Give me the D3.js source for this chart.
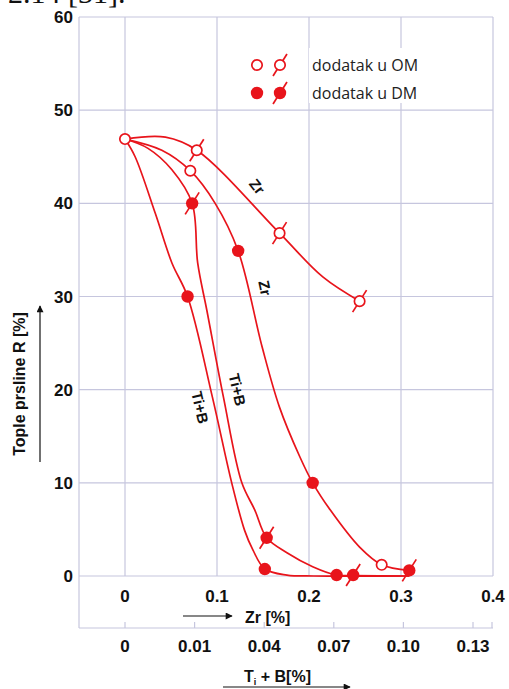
<!DOCTYPE html>
<html>
<head>
<meta charset="utf-8">
<script src="https://cdn.jsdelivr.net/npm/d3@7"></script>
<style>
  html, body { margin: 0; padding: 0; background: #fff; }
  svg { display: block; }
</style>
</head>
<body>
<svg id="chart" width="509" height="689"></svg>
<script>
// Hot cracking R [%] versus Zr and Ti+B additions
const yTicks = [0, 10, 20, 30, 40, 50, 60];
const zrTicks = [0, 0.1, 0.2, 0.3, 0.4];
const zrTickLabels = ["0", "0.1", "0.2", "0.3", "0.4"];
const tibTickLabels = ["0", "0.01", "0.04", "0.07", "0.10", "0.13"];

// curve paths, [position on Zr axis, R %]
const curveZrOM = [[0, 46.9], [0.044, 47.1], [0.078, 45.7], [0.168, 36.8], [0.215, 32.1], [0.255, 29.5]];
const curveZrDM = [[0, 46.9], [0.040, 45.7], [0.071, 43.5], [0.098, 40.0], [0.123, 34.9], [0.149, 24.6],
                   [0.168, 18.1], [0.190, 12.8], [0.204, 10], [0.223, 7.1], [0.255, 3.1], [0.279, 1.2], [0.309, 0.6]];
const curveTiB1 = [[0, 46.9], [0.025, 45.9], [0.051, 43.6], [0.073, 40], [0.079, 33.6], [0.089, 28.5],
                   [0.107, 19.2], [0.127, 10.0], [0.141, 7.1], [0.154, 4.1], [0.176, 2.5], [0.204, 1.0],
                   [0.230, 0.1], [0.248, 0.05], [0.309, 0]];
const curveTiB2 = [[0, 46.9], [0.011, 45.0], [0.033, 38.9], [0.051, 33.6], [0.068, 30], [0.095, 19.2],
                   [0.116, 10.0], [0.130, 4.9], [0.139, 2.8], [0.152, 0.75], [0.176, 0.1], [0.205, 0], [0.309, 0]];

// measured points
const openMarks = [[0, 46.9], [0.071, 43.5], [0.279, 1.2]];
const openSlashMarks = [[0.078, 45.7], [0.168, 36.8], [0.255, 29.5]];
const filledMarks = [[0.068, 30], [0.123, 34.9], [0.204, 10], [0.152, 0.75], [0.230, 0.1]];
const filledSlashMarks = [[0.073, 40], [0.154, 4.1], [0.248, 0.1], [0.309, 0.6]];

const curveLabels = [
  { text: "Zr", x: 0.1435, y: 41.8, angle: 52 },
  { text: "Zr", x: 0.152, y: 30.9, angle: 78 },
  { text: "Ti+B", x: 0.0815, y: 18.1, angle: 77 },
  { text: "Ti+B", x: 0.122, y: 20.0, angle: 77 }
];

const legendItems = ["dodatak u OM", "dodatak u DM"];

const RED = "#e8141b";
const GRID = "#c6c6de";
const svg = d3.select("#chart");

const x = d3.scaleLinear().domain([-0.05, 0.4]).range([79, 493]);
const y = d3.scaleLinear().domain([0, 60]).range([576, 17]);
const frameBottom = 628;
const xTiB = d3.scalePoint().domain(tibTickLabels).range([x(0), 473]);

// arrowhead
svg.append("defs").append("marker")
  .attr("id", "arrow").attr("viewBox", "0 0 10 10")
  .attr("refX", 9).attr("refY", 5)
  .attr("markerWidth", 9).attr("markerHeight", 7)
  .attr("markerUnits", "userSpaceOnUse")
  .attr("orient", "auto")
  .append("path").attr("d", "M0,0 L10,5 L0,10 Z").attr("fill", "#111");

// heading above the figure
svg.append("text").attr("x", 8).attr("y", 3)
  .attr("font-family", "Liberation Serif, serif").attr("font-size", 30)
  .attr("fill", "#111").text("2.14 [31].");

// grid and frame
const grid = svg.append("g").attr("stroke", GRID).attr("stroke-width", 1.2).attr("fill", "none");
grid.selectAll("line.h").data(yTicks).enter().append("line")
  .attr("x1", x(-0.05)).attr("x2", x(0.4))
  .attr("y1", d => y(d)).attr("y2", d => y(d));
grid.selectAll("line.v").data(zrTicks).enter().append("line")
  .attr("x1", d => x(d)).attr("x2", d => x(d))
  .attr("y1", y(60)).attr("y2", y(0));
grid.append("line").attr("x1", x(-0.05)).attr("x2", x(-0.05)).attr("y1", y(60)).attr("y2", frameBottom);
grid.append("line").attr("x1", x(-0.05)).attr("x2", x(0.4)).attr("y1", frameBottom).attr("y2", frameBottom);
grid.selectAll("line.t").data(tibTickLabels.concat(["end"])).enter().append("line")
  .attr("x1", d => d === "end" ? x(0.4) - 1 : xTiB(d))
  .attr("x2", d => d === "end" ? x(0.4) - 1 : xTiB(d))
  .attr("y1", frameBottom - 6).attr("y2", frameBottom);

// tick labels
const tickFont = "Liberation Sans, Arial, sans-serif";
svg.append("g").selectAll("text").data(yTicks).enter().append("text")
  .attr("x", 73).attr("y", d => y(d)).attr("dy", "0.36em")
  .attr("text-anchor", "end").attr("font-family", tickFont).attr("font-weight", "bold")
  .attr("font-size", 17).attr("fill", "#111").text(d => d);
svg.append("g").selectAll("text").data(zrTicks).enter().append("text")
  .attr("x", d => x(d)).attr("y", 601.5)
  .attr("text-anchor", "middle").attr("font-family", tickFont).attr("font-weight", "bold")
  .attr("font-size", 17).attr("fill", "#111").text((d, i) => zrTickLabels[i]);
svg.append("g").selectAll("text").data(tibTickLabels).enter().append("text")
  .attr("x", d => xTiB(d)).attr("y", 652)
  .attr("text-anchor", "middle").attr("font-family", tickFont).attr("font-weight", "bold")
  .attr("font-size", 17).attr("fill", "#111").text(d => d);

// axis titles with arrows
svg.append("line").attr("x1", 183).attr("x2", 232).attr("y1", 616).attr("y2", 616)
  .attr("stroke", "#111").attr("stroke-width", 1.2).attr("marker-end", "url(#arrow)");
svg.append("text").attr("x", 245).attr("y", 622.5)
  .attr("font-family", tickFont).attr("font-weight", "bold").attr("font-size", 16)
  .attr("fill", "#111").text("Zr [%]");

const tib = svg.append("text").attr("x", 244).attr("y", 682)
  .attr("font-family", tickFont).attr("font-weight", "bold").attr("font-size", 16).attr("fill", "#111");
tib.append("tspan").text("T");
tib.append("tspan").attr("font-size", 9).attr("dy", 3).text("i");
tib.append("tspan").attr("dy", -3).text(" + B[%]");
svg.append("line").attr("x1", 223).attr("x2", 350).attr("y1", 687).attr("y2", 687)
  .attr("stroke", "#111").attr("stroke-width", 1.2).attr("marker-end", "url(#arrow)");

svg.append("text").attr("transform", "translate(25,384) rotate(-90)")
  .attr("text-anchor", "middle").attr("font-family", tickFont).attr("font-weight", "bold")
  .attr("font-size", 16).attr("fill", "#111").text("Tople prsline R [%]");
svg.append("line").attr("x1", 40).attr("x2", 40).attr("y1", 462).attr("y2", 306)
  .attr("stroke", "#111").attr("stroke-width", 1.2).attr("marker-end", "url(#arrow)");

// curves
const line = d3.line().x(d => x(d[0])).y(d => y(d[1])).curve(d3.curveCatmullRom.alpha(0.5));
svg.append("g").attr("fill", "none").attr("stroke", RED).attr("stroke-width", 1.7)
  .selectAll("path").data([curveZrOM, curveZrDM, curveTiB1, curveTiB2]).enter()
  .append("path").attr("d", line);

// markers
function slash(g, cx, cy) {
  g.append("line").attr("x1", cx - 7).attr("y1", cy + 11).attr("x2", cx + 7).attr("y2", cy - 11)
    .attr("stroke", RED).attr("stroke-width", 1.7);
}
function drawMark(g, cx, cy, filled, slashed) {
  if (slashed) slash(g, cx, cy);
  if (filled) {
    g.append("circle").attr("cx", cx).attr("cy", cy).attr("r", 6.2).attr("fill", RED);
  } else {
    g.append("circle").attr("cx", cx).attr("cy", cy).attr("r", 5.2)
      .attr("fill", "#fff").attr("stroke", RED).attr("stroke-width", 1.7);
  }
}
const marks = svg.append("g");
openMarks.forEach(d => drawMark(marks, x(d[0]), y(d[1]), false, false));
openSlashMarks.forEach(d => drawMark(marks, x(d[0]), y(d[1]), false, true));
filledMarks.forEach(d => drawMark(marks, x(d[0]), y(d[1]), true, false));
filledSlashMarks.forEach(d => drawMark(marks, x(d[0]), y(d[1]), true, true));

// curve labels
svg.append("g").selectAll("text").data(curveLabels).enter().append("text")
  .attr("transform", d => `translate(${x(d.x)},${y(d.y)}) rotate(${d.angle})`)
  .attr("text-anchor", "middle").attr("dy", "0.35em")
  .attr("font-family", tickFont).attr("font-weight", "bold").attr("font-size", 15)
  .attr("fill", "#111").text(d => d.text);

// legend
const lg = svg.append("g");
lg.append("rect").attr("x", 309).attr("y", 48).attr("width", 130).attr("height", 55).attr("fill", "#fff");
legendItems.forEach((t, i) => {
  const cy = 65 + i * 28;
  drawMark(lg, 257, cy, i === 1, false);
  drawMark(lg, 280, cy, i === 1, true);
  lg.append("text").attr("x", 312).attr("y", cy + 6)
    .attr("font-family", "Open Sans, sans-serif").attr("font-size", 16)
    .attr("fill", "#222").text(t);
});
</script>
</body>
</html>
